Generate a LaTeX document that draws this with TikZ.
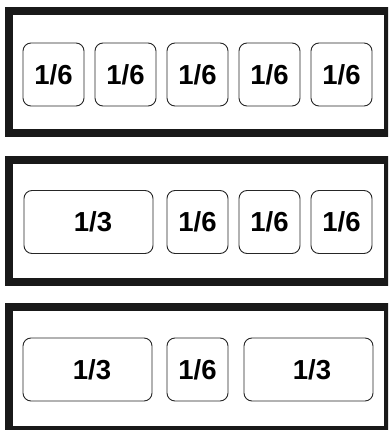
\documentclass[tikz,border=0pt]{standalone}
\usepackage{fontspec}
\setmainfont{Liberation Sans}
\usetikzlibrary{positioning}

\begin{document}
\begin{tikzpicture}[
    x=1pt, y=-1pt,
    font=\bfseries\fontsize{27.5}{30}\selectfont,
    node distance=11pt,
    % Define styles
    frame/.style={rectangle, draw=black!90, line width=8pt, minimum width=379pt, inner sep=0pt},
    sixth/.style={rectangle, rounded corners=8pt, draw=black!85, line width=0.9pt, minimum width=61pt, minimum height=63pt, inner sep=0pt, outer sep=0pt},
    third/.style={sixth, minimum width=129pt}
]
\clip (0,0) rectangle (388,430);

% 1. Outer frames
\node[frame, minimum height=122pt] (rowA) at (198.5,72) {};
\node[frame, minimum height=122.5pt] (rowB) at (198.5,221) {};
\node[frame, minimum height=123pt] (rowC) at (198.5,368.5) {};

% 2. Five sixths
\node[sixth] (a1) at (53.5,74.5) {1/6};
\node[sixth, right=of a1] (a2) {1/6};
\node[sixth, right=of a2] (a3) {1/6};
\node[sixth, right=of a3] (a4) {1/6};
\node[sixth, right=of a4] (a5) {1/6};

% 3. One third and three sixths
\node[third] (b1) at (88.5,222) {\hspace{9pt}1/3};
\node[sixth, right=14pt of b1] (b2) {1/6};
\node[sixth, right=of b2] (b3) {1/6};
\node[sixth, right=of b3] (b4) {1/6};

% 4. Third, sixth, third
\node[third] (c1) at (87.5,369.5) {\hspace{9pt}1/3};
\node[sixth, right=15pt of c1] (c2) {1/6};
\node[third, right=16pt of c2] (c3) {\hspace{7pt}1/3};

\end{tikzpicture}
\end{document}
